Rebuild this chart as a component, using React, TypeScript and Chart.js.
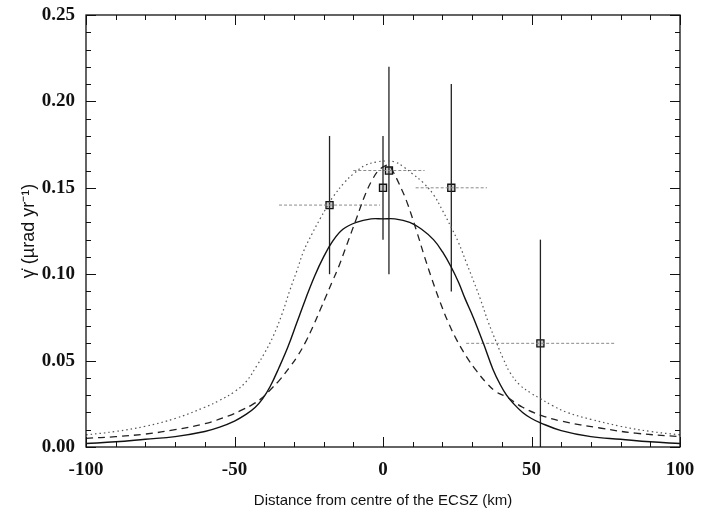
import React, { useEffect, useRef } from "react";
import { Chart, registerables } from "chart.js";
Chart.register(...registerables);

// Model curves
const SOLID_X = [-100, -90, -80, -70, -60, -55, -50, -46, -43, -40.5, -38, -35, -32, -29, -26, -23, -20, -17, -13.5, -9, -4, 0, 4, 9, 13, 17, 20, 23, 25.5, 27.6, 30.4, 33.8, 37, 39.5, 41.6, 44, 47, 50, 53, 60, 70, 80, 90, 100];
const SOLID_Y = [0.002, 0.003, 0.0045, 0.006, 0.009, 0.0115, 0.015, 0.019, 0.023, 0.028, 0.035, 0.046, 0.058, 0.072, 0.086, 0.099, 0.11, 0.119, 0.126, 0.13, 0.132, 0.132, 0.132, 0.13, 0.126, 0.12, 0.113, 0.104, 0.095, 0.086, 0.075, 0.06, 0.045, 0.036, 0.03, 0.025, 0.02, 0.0165, 0.014, 0.0095, 0.006, 0.0045, 0.003, 0.002];

const DASHED_X = [-100, -90, -80, -70, -60, -52, -48, -44, -41, -38, -34.7, -31.5, -29, -26, -23.5, -21, -19, -17, -15, -12.2, -9, -6, -3.5, -1.5, 0.5, 2, 3.5, 5.5, 8, 11.3, 14, 16.5, 19.2, 22, 24.8, 28.2, 31.5, 34.9, 38, 41.6, 47, 53, 60, 73, 85, 100];
const DASHED_Y = [0.005, 0.006, 0.0075, 0.01, 0.0135, 0.018, 0.021, 0.0245, 0.028, 0.033, 0.039, 0.046, 0.052, 0.061, 0.07, 0.08, 0.088, 0.096, 0.104, 0.117, 0.132, 0.146, 0.155, 0.16, 0.1625, 0.163, 0.159, 0.152, 0.142, 0.125, 0.11, 0.097, 0.084, 0.072, 0.062, 0.052, 0.044, 0.037, 0.032, 0.029, 0.023, 0.0185, 0.015, 0.011, 0.008, 0.006];

const DOTTED_X = [-100, -90, -80, -70, -60, -55, -50, -46, -42.5, -40, -37, -34, -31.3, -29, -26.8, -24, -21.2, -18.5, -16.7, -13, -10, -6, -2, 1, 4, 7, 10, 13.5, 17, 20, 23, 25.5, 28, 30.5, 32.7, 35.5, 38.3, 40.5, 42.8, 46, 50, 53, 57, 62, 70, 80, 90, 100];
const DOTTED_Y = [0.007, 0.009, 0.012, 0.0165, 0.023, 0.027, 0.032, 0.038, 0.047, 0.054, 0.064, 0.077, 0.091, 0.102, 0.113, 0.123, 0.132, 0.14, 0.145, 0.153, 0.158, 0.163, 0.165, 0.1655, 0.165, 0.162, 0.158, 0.153, 0.146, 0.137, 0.127, 0.118, 0.107, 0.096, 0.086, 0.072, 0.06, 0.051, 0.043, 0.036, 0.031, 0.028, 0.024, 0.02, 0.016, 0.012, 0.009, 0.007];

// Observations with error bars
const PT_X = [-18, 0, 2, 23, 53];
const PT_Y = [0.14, 0.15, 0.16, 0.15, 0.06];
const PT_YERR = [0.04, 0.03, 0.06, 0.06, 0.06];
const PT_XERR = [17, 0, 12, 12, 25];

// Axes
const X_MIN = -100, X_MAX = 100, X_STEP = 10, X_MAJOR = 50;
const Y_MIN = 0, Y_MAX = 0.25, Y_STEP = 0.01, Y_MAJOR = 0.05;
const X_TITLE = "Distance from centre of the ECSZ (km)";
const Y_TITLE = "\u03B3\u0307 (\u00B5rad yr\u207B\u00B9)";

const zip = (xs: number[], ys: number[]) => xs.map((x, i) => ({ x, y: ys[i] }));
const isMajor = (v: number, m: number) => Math.abs(Math.round(v / m) * m - v) < 1e-7;

const frameTicks = {
  id: "frameTicks",
  afterDatasetsDraw(chart: any) {
    const { ctx, chartArea: a, scales } = chart;
    const xs = scales.x, ys = scales.y;
    ctx.save();
    ctx.strokeStyle = "#111";
    ctx.lineWidth = 1;
    xs.ticks.forEach((t: any) => {
      const px = Math.round(xs.getPixelForValue(t.value)) + 0.5;
      const L = isMajor(t.value, X_MAJOR) ? 10 : 5;
      ctx.beginPath();
      ctx.moveTo(px, a.bottom); ctx.lineTo(px, a.bottom - L);
      ctx.moveTo(px, a.top); ctx.lineTo(px, a.top + L);
      ctx.stroke();
    });
    ys.ticks.forEach((t: any) => {
      const py = Math.round(ys.getPixelForValue(t.value)) + 0.5;
      const L = isMajor(t.value, Y_MAJOR) ? 10 : 5;
      ctx.beginPath();
      ctx.moveTo(a.left, py); ctx.lineTo(a.left + L, py);
      ctx.moveTo(a.right, py); ctx.lineTo(a.right - L, py);
      ctx.stroke();
    });
    ctx.lineWidth = 1.3;
    ctx.strokeRect(a.left, a.top, a.right - a.left, a.bottom - a.top);
    ctx.restore();
  },
};

export default function App() {
  const ref = useRef<HTMLCanvasElement | null>(null);
  useEffect(() => {
    if (!ref.current) return;
    const datasets: any[] = [
      { data: zip(DOTTED_X, DOTTED_Y), borderColor: "#555", borderWidth: 1.2, borderDash: [1.5, 3], tension: 0.4 },
      { data: zip(DASHED_X, DASHED_Y), borderColor: "#222", borderWidth: 1.3, borderDash: [7, 5], tension: 0.4 },
      { data: zip(SOLID_X, SOLID_Y), borderColor: "#111", borderWidth: 1.4, tension: 0.4 },
    ];
    PT_X.forEach((x, i) => {
      if (PT_XERR[i] > 0) {
        datasets.push({
          data: [{ x: x - PT_XERR[i], y: PT_Y[i] }, { x: x + PT_XERR[i], y: PT_Y[i] }],
          borderColor: "#8a8a8a", borderWidth: 1, borderDash: [3, 2],
        });
      }
      datasets.push({
        data: [{ x, y: PT_Y[i] - PT_YERR[i] }, { x, y: PT_Y[i] + PT_YERR[i] }],
        borderColor: "#222", borderWidth: 1.3,
      });
    });
    datasets.push({
      data: zip(PT_X, PT_Y), showLine: false, pointStyle: "rect", pointRadius: 5,
      pointBorderColor: "#111", pointBackgroundColor: "#ccc", pointBorderWidth: 1.3,
    });
    datasets.push({
      data: zip(PT_X, PT_Y), showLine: false, pointStyle: "circle", pointRadius: 2.2,
      pointBorderColor: "#111", pointBackgroundColor: "#fff", pointBorderWidth: 1,
    });
    datasets.forEach((d) => {
      d.type = "line";
      d.fill = false;
      if (d.pointRadius === undefined) d.pointRadius = 0;
    });

    const chart = new Chart(ref.current, {
      type: "line",
      data: { datasets },
      options: {
        animation: false,
        responsive: true,
        maintainAspectRatio: false,
        layout: { padding: { top: 15, right: 27, left: 0, bottom: 0 } },
        plugins: { legend: { display: false }, tooltip: { enabled: false } },
        scales: {
          x: {
            type: "linear", min: X_MIN, max: X_MAX,
            grid: { display: false }, border: { display: false },
            ticks: {
              stepSize: X_STEP, autoSkip: false, maxRotation: 0, padding: 4,
              color: "#111", font: { family: "'Liberation Serif', serif", size: 19, weight: "bold" },
              callback: (v: any) => (isMajor(Number(v), X_MAJOR) ? String(Math.round(Number(v))) : ""),
            },
            title: {
              display: true, text: X_TITLE, color: "#111", padding: { top: 0, bottom: 5 },
              font: { family: "'Liberation Sans', Arial, sans-serif", size: 15 },
            },
            afterFit: (s: any) => { s.height = 68; },
          },
          y: {
            type: "linear", min: Y_MIN, max: Y_MAX,
            grid: { display: false }, border: { display: false },
            ticks: {
              stepSize: Y_STEP, autoSkip: false, padding: 3,
              color: "#111", font: { family: "'Liberation Serif', serif", size: 19, weight: "bold" },
              callback: (v: any) => (isMajor(Number(v), Y_MAJOR) ? Number(v).toFixed(2) : ""),
            },
            title: {
              display: true, text: Y_TITLE, color: "#111", padding: { top: 18, bottom: 0 },
              font: { family: "'Liberation Sans', Arial, sans-serif", size: 18 },
            },
            afterFit: (s: any) => { s.width = 86; },
          },
        },
      } as any,
      plugins: [frameTicks],
    });
    return () => chart.destroy();
  }, []);
  return (
    <div style={{ position: "absolute", left: 0, top: 0, width: 707, height: 515, background: "#fff" }}>
      <canvas ref={ref} />
    </div>
  );
}
